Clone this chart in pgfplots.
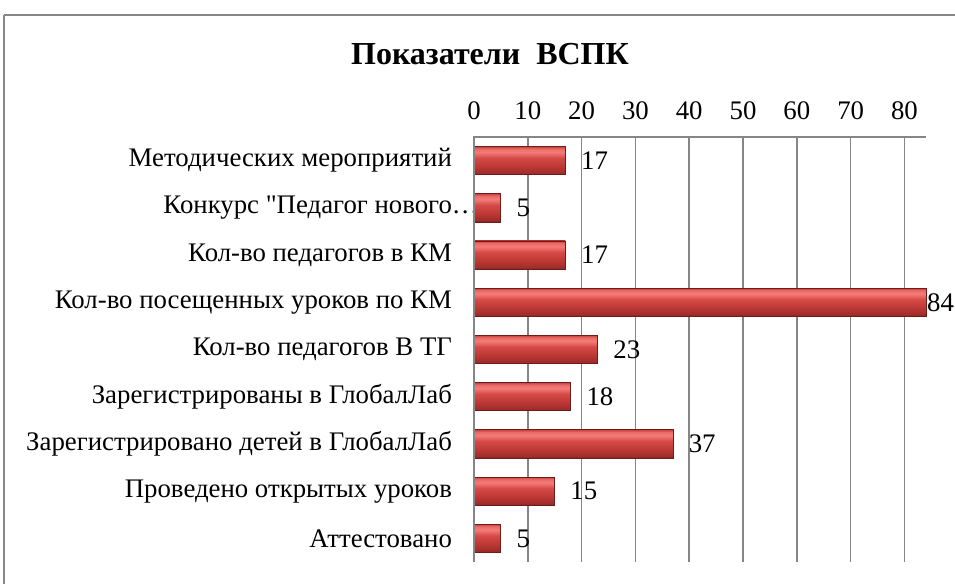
\documentclass[border=0pt]{standalone}
\usepackage{fontspec}
\setmainfont{Liberation Serif}[Ligatures=TeXOff]
\usepackage{pgfplots}
\pgfplotsset{compat=1.18}
\definecolor{gridgray}{RGB}{134,134,134}
\definecolor{framegray}{RGB}{136,136,136}
\definecolor{baredge}{RGB}{110,28,26}
\definecolor{sA}{RGB}{120,32,30}
\definecolor{sB}{RGB}{158,44,42}
\definecolor{sC}{RGB}{188,56,53}
\definecolor{sD}{RGB}{214,74,70}
\definecolor{sE}{RGB}{244,124,122}
\definecolor{sF}{RGB}{234,106,102}
\definecolor{sG}{RGB}{198,64,62}
\pgfdeclareverticalshading{barshade}{100bp}{%
  color(0bp)=(sA);
  color(25bp)=(sA);
  color(28bp)=(sB);
  color(40bp)=(sC);
  color(55bp)=(sD);
  color(65bp)=(sE);
  color(71bp)=(sF);
  color(75bp)=(sG);
  color(100bp)=(sG)}
\begin{document}
\begin{tikzpicture}
\useasboundingbox (0,0) rectangle (477.5pt,292pt);
\draw[framegray, line width=0.8pt] (2pt,284.5pt) -- (490pt,284.5pt);
\draw[framegray, line width=0.8pt] (2pt,284.5pt) -- (2pt,-10pt);
\node[font=\bfseries\fontsize{16}{19}\selectfont] at (245pt,265pt) {Показатели\ \ ВСПК};
\begin{axis}[
  at={(237pt,11pt)}, anchor=south west,
  scale only axis, width=226pt, height=212.5pt,
  xmin=0, xmax=84, ymin=-0.5, ymax=8.5, y dir=reverse,
  xtick={0,10,...,80}, ytick={0,...,8},
  yticklabels={
    Методических мероприятий\ ,
    {Конкурс "Педагог нового\rlap{…}\hspace{-6.5pt}},
    Кол-во педагогов в КМ,
    Кол-во посещенных уроков по КМ,
    Кол-во педагогов В ТГ,
    Зарегистрированы в ГлобалЛаб,
    Зарегистрировано детей в ГлобалЛаб,
    Проведено открытых уроков,
    Аттестовано\ },
  xticklabel pos=upper,
  major tick length=0pt,
  xmajorgrids, ymajorgrids=false,
  grid style={gridgray, line width=0.75pt},
  axis line style={draw=none},
  tick label style={font=\fontsize{13.4}{15}\selectfont},
  /pgf/number format/assume math mode=true,
  xticklabel style={yshift=5pt},
  yticklabel style={xshift=-7.5pt},
  clip=false,
  onebar/.style={xbar, bar width=0.6, bar shift=0pt, draw=baredge, line width=0.4pt,
    shading=barshade, forget plot,
    nodes near coords,
    nodes near coords style={font=\fontsize{13.4}{15}\selectfont, anchor=west, xshift=4.3pt, black}},
  after end axis/.code={
    \draw[gridgray, line width=0.75pt] (axis description cs:0,0) -- (axis description cs:0,1) -- (axis description cs:1,1);
  },
]
\addplot[onebar] coordinates {(17,0)};
\addplot[onebar] coordinates {(5,1)};
\addplot[onebar] coordinates {(17,2)};
\addplot[onebar, nodes near coords style={xshift=-3.9pt, inner sep=0pt}] coordinates {(84,3)};
\addplot[onebar] coordinates {(23,4)};
\addplot[onebar] coordinates {(18,5)};
\addplot[onebar] coordinates {(37,6)};
\addplot[onebar] coordinates {(15,7)};
\addplot[onebar] coordinates {(5,8)};
\end{axis}
\end{tikzpicture}
\end{document}
